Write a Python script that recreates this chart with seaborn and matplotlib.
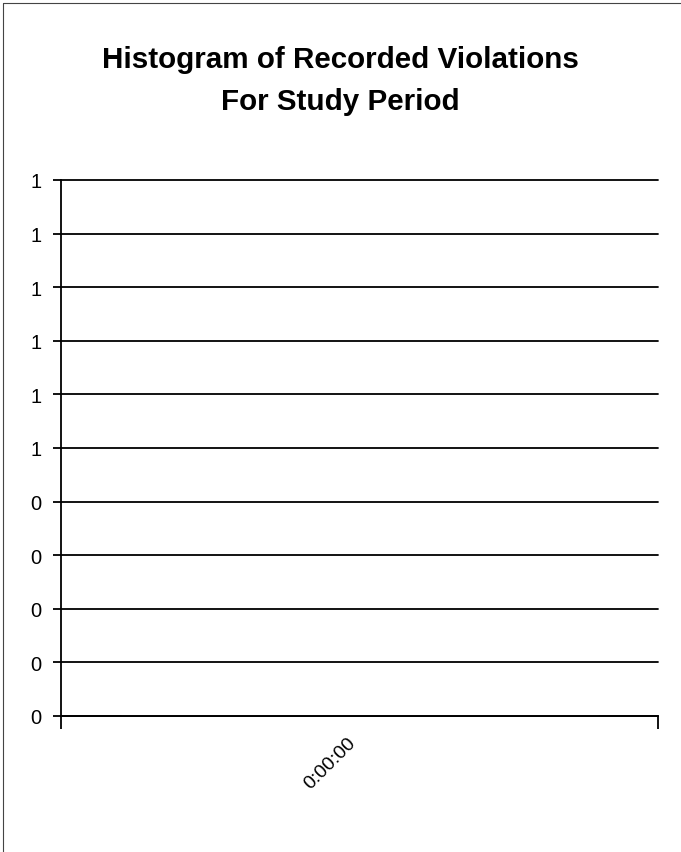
import numpy as np
import pandas as pd
import matplotlib
matplotlib.use('Agg')
import matplotlib.pyplot as plt
import matplotlib.transforms as mtransforms
import seaborn as sns
from matplotlib.lines import Line2D

# chart data: one empty time bin
categories = ["0:00:00"]
counts = [0]
y_ticks = [0.0, 0.1, 0.2, 0.3, 0.4, 0.5, 0.6, 0.7, 0.8, 0.9, 1.0]
y_tick_labels = ["0", "0", "0", "0", "0", "1", "1", "1", "1", "1", "1"]
title_lines = ["Histogram of Recorded Violations", "For Study Period"]

df = pd.DataFrame({"time": categories, "violations": counts})

sns.set_style('white')
plt.rcParams['font.family'] = ['Liberation Sans', 'DejaVu Sans']
plt.rcParams['text.color'] = 'black'
plt.rcParams['xtick.color'] = 'black'
plt.rcParams['ytick.color'] = 'black'

W, H = 681, 853
fig = plt.figure(figsize=(W / 100, H / 100), dpi=100)
ax = fig.add_axes([61 / W, 1 - 717 / H, (658 - 61) / W, (717 - 181) / H])

sns.barplot(data=df, x='time', y='violations', color='#9999ff', ax=ax)

ax.set_xlim(-0.5, 0.5)
ax.set_ylim(0, 1)
ax.set_xlabel('')
ax.set_ylabel('')

ax.set_yticks(y_ticks)
ax.set_yticklabels(y_tick_labels, fontsize=14.5)
ax.yaxis.grid(True, color='black', linewidth=1.3)
for gl in ax.yaxis.get_gridlines():
    gl.set_clip_on(False)
ax.tick_params(axis='y', left=True, direction='out', length=6, width=1.3,
               color='black', labelcolor='black', pad=8)

ax.set_xticks([0])
ax.set_xticklabels(categories, rotation=45, ha='right', va='center',
                   rotation_mode='anchor', fontsize=14)
ax.tick_params(axis='x', which='major', bottom=True, length=0, pad=17, labelcolor='black')
ax.set_xticks([-0.5, 0.5], minor=True)
ax.tick_params(axis='x', which='minor', bottom=True, direction='out', length=9,
               width=1.3, color='black')
shift = mtransforms.ScaledTranslation(-0.06, 0, fig.dpi_scale_trans)
for lab in ax.get_xticklabels():
    lab.set_transform(lab.get_transform() + shift)

for side in ['top', 'right']:
    ax.spines[side].set_visible(False)
for side in ['left', 'bottom']:
    ax.spines[side].set_color('black')
    ax.spines[side].set_linewidth(1.3)

fig.text(0.5, 1 - 68 / H, title_lines[0], ha='center', va='baseline',
         fontsize=21.3, fontweight='bold', color='black')
fig.text(0.5, 1 - 110 / H, title_lines[1], ha='center', va='baseline',
         fontsize=21.3, fontweight='bold', color='black')

# chart area border (left and top edges visible in the scan)
fig.add_artist(Line2D([3 / W, 3 / W], [0, 1 - 4 / H], transform=fig.transFigure,
                      color='#444444', linewidth=0.8))
fig.add_artist(Line2D([3 / W, 1], [1 - 4 / H, 1 - 4 / H], transform=fig.transFigure,
                      color='#444444', linewidth=0.8))

fig.savefig('out.png', dpi=100)
